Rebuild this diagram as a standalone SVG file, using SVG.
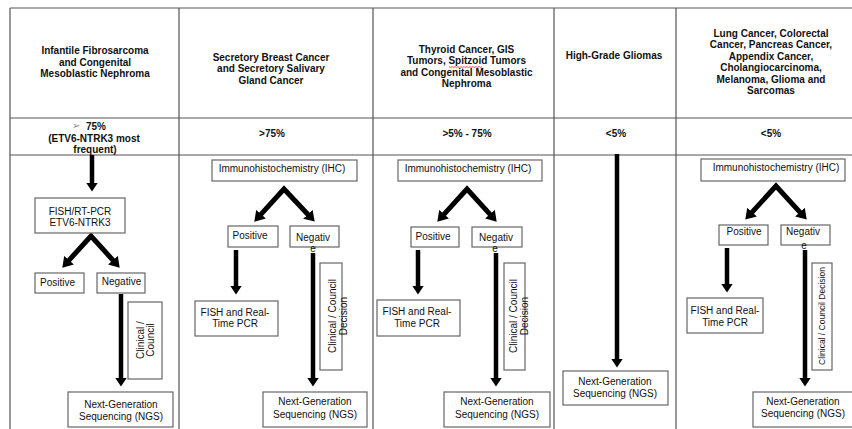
<svg xmlns="http://www.w3.org/2000/svg" width="852" height="429" viewBox="0 0 852 429">
<style>
.hd{font-family:"Liberation Sans",Arial,sans-serif;font-size:10px;font-weight:bold;fill:#111;text-anchor:middle}
.tx{font-family:"Liberation Sans",Arial,sans-serif;font-size:10px;fill:#111;text-anchor:middle}
.sm{font-family:"Liberation Sans",Arial,sans-serif;font-size:8.5px;fill:#111;text-anchor:middle}
.grid{stroke:#555;stroke-width:1.2;fill:none}
.box{fill:#fff;stroke:#666;stroke-width:1.2}
.arr{stroke:#000;stroke-width:4.5;fill:none;marker-end:url(#ah)}
.chev{stroke:#000;stroke-width:5;fill:none;stroke-linejoin:miter;marker-start:url(#ah2);marker-end:url(#ah2)}
</style>
<defs>
<marker id="ah" viewBox="0 0 9 12" refX="0.5" refY="6" markerWidth="9" markerHeight="12" markerUnits="userSpaceOnUse" orient="auto"><path d="M0,0 L9,6 L0,12 z" fill="#000"/></marker>
<marker id="ah2" viewBox="0 0 10 13" refX="0.5" refY="6.5" markerWidth="10" markerHeight="13" markerUnits="userSpaceOnUse" orient="auto-start-reverse"><path d="M0,0 L10,6.5 L0,13 z" fill="#000"/></marker>
</defs>
<rect width="852" height="429" fill="#fff"/>
<g id="table">
<path class="grid" d="M10,8 H852 M10,118 H852 M10,155 H852 M10,8 V429 M179,8 V429 M373,8 V429 M554,8 V429 M676,8 V429"/>
</g>
<g id="headers">
<text class="hd"><tspan x="95" y="54">Infantile Fibrosarcoma</tspan><tspan x="95" y="65.5">and Congenital</tspan><tspan x="95" y="77">Mesoblastic Nephroma</tspan></text>
<text class="hd"><tspan x="271" y="60.5">Secretory Breast Cancer</tspan><tspan x="271" y="72">and Secretory Salivary</tspan><tspan x="271" y="83.5">Gland Cancer</tspan></text>
<text class="hd"><tspan x="466.5" y="52.5">Thyroid Cancer, GIS</tspan><tspan x="466.5" y="64">Tumors, Spitzoid Tumors</tspan><tspan x="466.5" y="75.5">and Congenital Mesoblastic</tspan><tspan x="466.5" y="87">Nephroma</tspan></text>
<path d="M449,66.5 l1.5,1.2 l1.5,-1.2 l1.5,1.2 l1.5,-1.2 l1.5,1.2 l1.5,-1.2 l1.5,1.2 l1.5,-1.2 l1.5,1.2 l1.5,-1.2 l1.5,1.2 l1.5,-1.2 l1.5,1.2 l1.5,-1.2 l1.5,1.2 l1.5,-1.2 l1.5,1.2 l1.5,-1.2 l1.5,1.2 l1.5,-1.2 l1.5,1.2 l1.5,-1.2" fill="none" stroke="#d22" stroke-width="0.8"/>
<text class="hd" x="614" y="58.5">High-Grade Gliomas</text>
<text class="hd"><tspan x="771" y="36.5">Lung Cancer, Colorectal</tspan><tspan x="771" y="48">Cancer, Pancreas Cancer,</tspan><tspan x="771" y="59.5">Appendix Cancer,</tspan><tspan x="771" y="71">Cholangiocarcinoma,</tspan><tspan x="771" y="82.5">Melanoma, Glioma and</tspan><tspan x="771" y="94">Sarcomas</tspan></text>
</g>
<g id="frequencies">
<text x="72" y="129" style="fill:#888;font-family:'DejaVu Sans',sans-serif;font-size:10px">➢</text>
<text class="hd" x="86" y="130" style="text-anchor:start">75%</text>
<text class="hd"><tspan x="94" y="141.5">(ETV6-NTRK3 most</tspan><tspan x="95" y="152.5">frequent)</tspan></text>
<text class="hd" x="272" y="136.5">&gt;75%</text>
<text class="hd" x="467" y="136.5">&gt;5% - 75%</text>
<text class="hd" x="616" y="136.5">&lt;5%</text>
<text class="hd" x="771" y="136.5">&lt;5%</text>
</g>
<g id="connectors">
<path class="arr" d="M92,155 V183"/>
<path class="chev" d="M68.7,260.6 L91,236 L113.3,260.6"/>
<path class="arr" d="M121,294 V378"/>
<path class="chev" d="M260.7,214.6 L284,189 L308.2,214.7"/>
<path class="arr" d="M236,250 V286"/>
<path class="arr" d="M313,253 V378"/>
<path class="chev" d="M443.7,214.6 L467,189 L490.3,214.6"/>
<path class="arr" d="M418,250 V286"/>
<path class="arr" d="M496,253 V378"/>
<path class="arr" d="M617,154 V359"/>
<path class="chev" d="M751.7,212.6 L776,186 L800.3,212.6"/>
<path class="arr" d="M727,248 V284"/>
<path class="arr" d="M805,250 V378"/>
</g>
<g id="c1-fish"><rect class="box" x="35" y="198" width="90" height="35"/><text class="tx"><tspan x="80" y="214.5">FISH/RT-PCR</tspan><tspan x="80" y="225.5">ETV6-NTRK3</tspan></text></g>
<g id="c1-pos"><rect class="box" x="35" y="273" width="49" height="20"/><text class="tx" x="57.5" y="286">Positive</text></g>
<g id="c1-neg"><rect class="box" x="97" y="273" width="48" height="20"/><text class="tx" x="121.5" y="285">Negative</text></g>
<g id="c1-clin"><rect class="box" x="128" y="302" width="34" height="77"/><text class="tx" transform="translate(140,340) rotate(-90)"><tspan x="0" y="3.5">Clinical /</tspan><tspan x="0" y="14">Council</tspan></text></g>
<g id="c1-ngs"><rect class="box" x="68" y="392" width="105" height="35"/><text class="tx"><tspan x="121" y="407.5">Next-Generation</tspan><tspan x="121" y="419.5">Sequencing (NGS)</tspan></text></g>

<g id="c2-ihc"><rect class="box" x="212" y="160" width="145" height="21"/><text class="tx" x="282" y="171.5">Immunohistochemistry (IHC)</text></g>
<g id="c2-pos"><rect class="box" x="228" y="226" width="50" height="21"/><text class="tx" x="250" y="239">Positive</text></g>
<g id="c2-neg"><rect class="box" x="290" y="226" width="49" height="21"/><text class="tx"><tspan x="313" y="240.5">Negativ</tspan><tspan x="313" y="251.5">e</tspan></text></g>
<g id="c2-fish"><rect class="box" x="195" y="301" width="83" height="35"/><text class="tx"><tspan x="235" y="315.5">FISH and Real-</tspan><tspan x="235" y="327">Time PCR</tspan></text></g>
<g id="c2-clin"><rect class="box" x="320" y="263" width="22" height="107"/><text class="tx" transform="translate(332,316) rotate(-90)"><tspan x="0" y="3.5">Clinical / Council</tspan><tspan x="0" y="14.5">Decision</tspan></text></g>
<g id="c2-ngs"><rect class="box" x="263" y="392" width="104" height="35"/><text class="tx"><tspan x="315" y="405">Next-Generation</tspan><tspan x="315" y="417.5">Sequencing (NGS)</tspan></text></g>

<g id="c3-ihc"><rect class="box" x="398" y="160" width="144" height="21"/><text class="tx" x="468" y="171.5">Immunohistochemistry (IHC)</text></g>
<g id="c3-pos"><rect class="box" x="411" y="227" width="48" height="20"/><text class="tx" x="433" y="240">Positive</text></g>
<g id="c3-neg"><rect class="box" x="472" y="227" width="50" height="20"/><text class="tx"><tspan x="496" y="241">Negativ</tspan><tspan x="495" y="252">e</tspan></text></g>
<g id="c3-fish"><rect class="box" x="377" y="300" width="83" height="36"/><text class="tx"><tspan x="417" y="315">FISH and Real-</tspan><tspan x="417" y="327">Time PCR</tspan></text></g>
<g id="c3-clin"><rect class="box" x="504" y="263" width="21" height="107"/><text class="tx" transform="translate(513,316) rotate(-90)"><tspan x="0" y="3.5">Clinical / Council</tspan><tspan x="0" y="14.5">Decision</tspan></text></g>
<g id="c3-ngs"><rect class="box" x="444" y="392" width="106" height="35"/><text class="tx"><tspan x="497" y="405">Next-Generation</tspan><tspan x="497" y="417.5">Sequencing (NGS)</tspan></text></g>

<g id="c4-ngs"><rect class="box" x="563" y="371" width="105" height="34"/><text class="tx"><tspan x="615" y="385">Next-Generation</tspan><tspan x="615" y="397">Sequencing (NGS)</tspan></text></g>

<g id="c5-ihc"><rect class="box" x="701" y="159" width="144" height="22"/><text class="tx" x="776" y="170.5">Immunohistochemistry (IHC)</text></g>
<g id="c5-pos"><rect class="box" x="719" y="225" width="49" height="20"/><text class="tx" x="744" y="235">Positive</text></g>
<g id="c5-neg"><rect class="box" x="781" y="225" width="49" height="20"/><text class="tx"><tspan x="803" y="235">Negativ</tspan><tspan x="804" y="248.5">e</tspan></text></g>
<g id="c5-fish"><rect class="box" x="687" y="298" width="76" height="35"/><text class="tx"><tspan x="725" y="313.5">FISH and Real-</tspan><tspan x="725" y="325.5">Time PCR</tspan></text></g>
<g id="c5-clin"><rect class="box" x="812" y="263" width="20" height="107"/><text class="sm" transform="translate(822,316) rotate(-90)" x="0" y="3">Clinical / Council Decision</text></g>
<g id="c5-ngs"><rect class="box" x="753" y="392" width="104" height="35"/><text class="tx"><tspan x="803" y="404.5">Next-Generation</tspan><tspan x="803" y="417">Sequencing (NGS)</tspan></text></g>
</svg>
